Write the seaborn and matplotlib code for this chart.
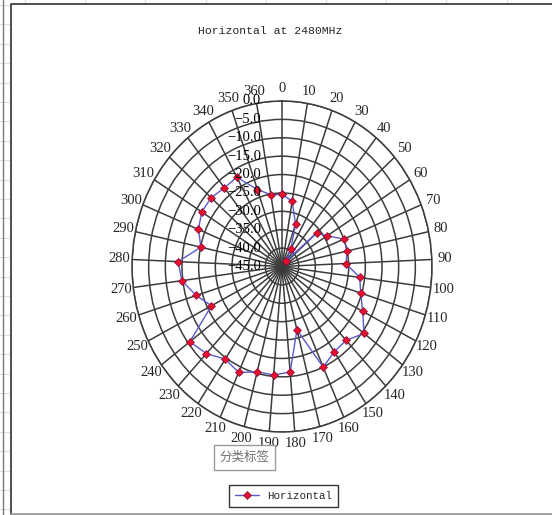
import numpy as np
import pandas as pd
import seaborn as sns
import matplotlib.pyplot as plt
from matplotlib.lines import Line2D
from matplotlib.transforms import offset_copy

# --- data (dB, one value per category) ---
categories = [str(a) for a in range(0, 370, 10)]   # 0 ... 360, 37 categories like Excel
gain_db = [-25.4, -27.0, -32.8, -39.6, -43.1, -31.2, -29.1, -25.0, -25.0, -25.8,
           -21.5, -20.3, -17.9, -14.4, -17.2, -17.0, -15.0, -27.2, -16.2, -15.4,
           -15.4, -13.4, -14.6, -12.2, -10.6, -21.3, -18.1, -14.7, -13.8, -20.1,
           -18.0, -16.7, -16.7, -17.5, -17.2, -22.8, -25.2]
r_ticks = [-45, -40, -35, -30, -25, -20, -15, -10, -5, 0]
chart_title = "Horizontal at 2480MHz"
series_name = "Horizontal"
tooltip_text = "分类标签"

# colours
grid_col = "#3c3c3c"
line_col = "#5a5acc"
marker_face = "#e5102e"
marker_edge = "#8a0838"

sns.set_style("white")
plt.rcParams["font.family"] = ["Liberation Serif", "DejaVu Sans"]

# Excel spreads the categories evenly round the circle
n_cat = len(categories)
theta = np.arange(n_cat) * 2 * np.pi / n_cat
df = pd.DataFrame({"theta": theta, "gain": gain_db})
# close the loop back to the first category
df = pd.concat([df, pd.DataFrame({"theta": [2 * np.pi], "gain": [gain_db[0]]})],
               ignore_index=True)

fig = plt.figure(figsize=(5.52, 5.15), dpi=100)

# spreadsheet bits around the chart object
for yy in np.arange(5, 515, 19.4):
    fig.add_artist(Line2D([0, 9 / 552], [1 - yy / 515] * 2, color="#dddddd", lw=0.8))
for xx in np.arange(25, 552, 60.2):
    fig.add_artist(Line2D([xx / 552] * 2, [1, 1 - 3 / 515], color="#dddddd", lw=0.8))
fig.add_artist(Line2D([2.5 / 552] * 2, [0, 1], color="#777777", lw=1))
fig.add_artist(Line2D([10.5 / 552, 10.5 / 552, 1.01], [1 - 513.5 / 515, 1 - 3.5 / 515, 1 - 3.5 / 515],
                      color="#404040", lw=1.3))
fig.add_artist(Line2D([10.5 / 552, 1.01], [1 - 513.5 / 515] * 2, color="#9a9a9a", lw=1.3))

ax = fig.add_axes([132 / 552, 1 - 432 / 515, 300 / 552, 331 / 515], projection="polar")

sns.lineplot(data=df, x="theta", y="gain", sort=False, estimator=None, ax=ax,
             color=line_col, lw=1.0, marker="D", markersize=3.8,
             markerfacecolor=marker_face, markeredgecolor=marker_edge,
             markeredgewidth=0.5, label=series_name)

ax.set_theta_zero_location("N")
ax.set_theta_direction(-1)
ax.set_ylim(r_ticks[0], r_ticks[-1])
ax.set_yticks(r_ticks)
ax.set_yticklabels([])
ax.set_xticks(theta)
ax.set_xticklabels(categories, fontsize=10.5)
ax.tick_params(axis="x", length=0, pad=2)
ax.set_xlabel("")
ax.set_ylabel("")
ax.grid(True, color=grid_col, lw=1.1)
ax.spines["polar"].set_color(grid_col)
ax.spines["polar"].set_linewidth(1.1)
ax.set_facecolor("none")
ax.set_aspect("auto")   # the screenshot is stretched a little vertically

# value labels sit left of the vertical spoke, like Excel
lab_tr = offset_copy(ax.transData, fig=fig, x=-21, y=0, units="dots")
for v in r_ticks:
    ax.text(0, v, f"{v:.1f}".replace("-", "\u2212"), transform=lab_tr,
            ha="right", va="center", fontsize=10.5, color="black")

handles, labels = ax.get_legend_handles_labels()
ax.get_legend().remove()
leg = fig.legend(handles, labels, loc="center", bbox_to_anchor=(283.5 / 552, 1 - 496 / 515),
                 frameon=True, fancybox=False, edgecolor="black", handlelength=2.2,
                 borderpad=0.55, prop={"family": "Liberation Mono", "size": 7.8})
leg.get_frame().set_linewidth(1.0)

fig.text(270.5 / 552, 1 - 30.5 / 515, chart_title, ha="center", va="center",
         family="Liberation Mono", fontsize=8.2)

fig.text(244.5 / 552, 1 - 457.5 / 515, tooltip_text, ha="center", va="center",
         family=["Noto Sans CJK SC", "DejaVu Sans"], fontsize=9, color="#707070",
         bbox=dict(boxstyle="square,pad=0.45", fc="white", ec="#9a9a9a", lw=1))

fig.savefig("out.png", dpi=100)
